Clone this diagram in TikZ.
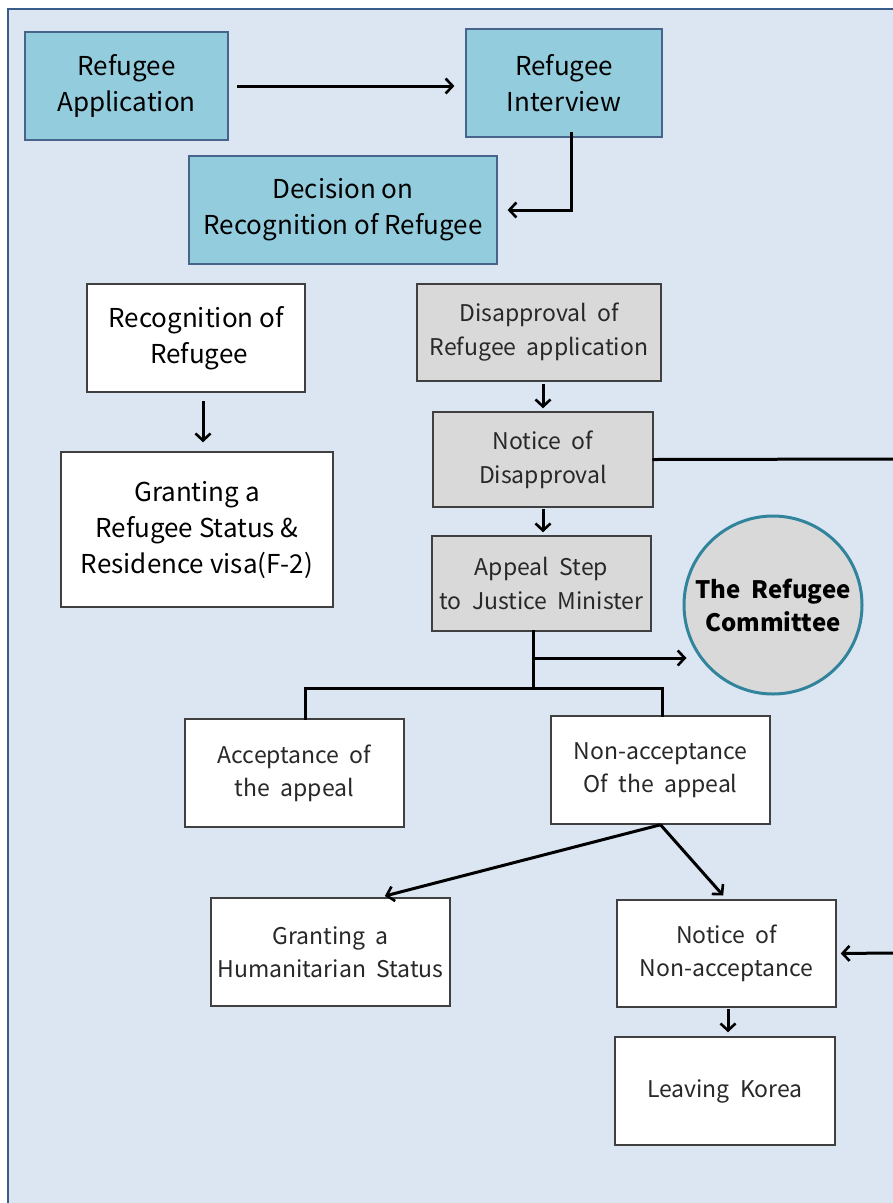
\documentclass[tikz,border=0pt]{standalone}
\usepackage{fontspec}
\setmainfont{Noto Sans CJK KR}
\usetikzlibrary{arrows.meta}
\definecolor{bgfill}{RGB}{220,230,242}
\definecolor{bgline}{RGB}{56,93,138}
\definecolor{bluefill}{RGB}{147,205,221}
\definecolor{blueline}{RGB}{70,100,140}
\definecolor{grayfill}{RGB}{217,217,217}
\definecolor{grayline}{RGB}{64,64,64}
\definecolor{circline}{RGB}{49,132,155}
\definecolor{graytext}{RGB}{40,40,40}
\newcommand\widesp{\spaceskip=0.45em plus 0.1em\relax}
\begin{document}
\begin{tikzpicture}[x=1pt,y=-1pt,
  bluebox/.style={draw=blueline,line width=1.2pt,fill=bluefill,align=center,inner sep=0pt,
    font=\fontsize{26}{36}\selectfont},
  whitebig/.style={draw=grayline,line width=1.5pt,fill=white,align=center,inner sep=0pt,
    font=\fontsize{26}{36}\selectfont},
  graybox/.style={draw=grayline,line width=1.5pt,fill=grayfill,align=center,inner sep=0pt,
    text=graytext,font=\fontsize{23}{34}\selectfont\widesp},
  whitesmall/.style={draw=grayline,line width=1.5pt,fill=white,align=center,inner sep=0pt,
    text=graytext,font=\fontsize{23}{33}\selectfont\widesp},
  conn/.style={line width=3pt,line cap=rect},
  arr/.style={conn,-{Straight Barb[length=7pt,width=15pt,line width=2.6pt]}}]
\useasboundingbox (0,0) rectangle (893,1203);
\fill[white] (0,0) rectangle (893,1203);
\draw[bgline,line width=1.2pt,fill=bgfill] (8,9) rectangle (910,1220);

\node[bluebox,minimum width=203pt,minimum height=108pt] (app) at (126.5,86) {Refugee\\Application};
\node[bluebox,minimum width=196pt,minimum height=108pt] (int) at (564,83) {Refugee\\Interview};
\node[bluebox,minimum width=308pt,minimum height=108pt] (dec) at (343,210) {Decision on\\Recognition of Refugee};

\node[whitebig,minimum width=218pt,minimum height=108pt] (rec) at (196,338) {Recognition of\\\hspace*{6pt}Refugee};
\node[whitebig,minimum width=272pt,minimum height=155pt] (grant) at (197,529.5) {Granting a\\Refugee Status \&\\Residence visa(F-2)};

\node[graybox,minimum width=244pt,minimum height=97pt] (dis) at (539,332.5) {Disapproval of\\Refugee application};
\node[graybox,minimum width=220pt,minimum height=95pt] (nd) at (543,459.5) {Notice of\\Disapproval};
\node[graybox,minimum width=219pt,minimum height=95pt] (ap) at (541.5,583.5) {Appeal Step\\to Justice Minister};

\node[circle,draw=circline,line width=3pt,fill=grayfill,minimum size=178pt,inner sep=0pt,align=center,
  font=\fontsize{24}{33}\bfseries\selectfont\widesp] (cir) at (773,605) {The Refugee\\Committee};

\node[whitesmall,minimum width=219pt,minimum height=108pt] (acc) at (294.5,773) {Acceptance of\\the appeal};
\node[whitesmall,minimum width=219pt,minimum height=108pt] (nacc) at (660.5,770) {Non-acceptance\\Of the appeal};
\node[whitesmall,minimum width=239pt,minimum height=108pt] (hum) at (330.5,952) {Granting a\\Humanitarian Status};
\node[whitesmall,minimum width=219pt,minimum height=107pt] (nna) at (726.5,953.5) {Notice of\\Non-acceptance};
\node[whitesmall,minimum width=220pt,minimum height=108pt] (leave) at (725,1091) {Leaving Korea};

% connectors
\draw[arr,shorten <=10pt,shorten >=11pt] (app.east) -- (app.east -| int.west);
\draw[arr] ([xshift=7pt,yshift=4pt]int.south) |- ([xshift=10pt]dec.east);
\draw[arr,shorten <=10pt,shorten >=9pt] ([xshift=7pt]rec.south) -- ([xshift=6pt]grant.north);
\draw[arr,shorten <=4pt,shorten >=3pt] ([xshift=4pt]dis.south) -- (nd.north);
\draw[arr,shorten <=3pt,shorten >=3pt] (nd.south) -- ([xshift=1.5pt]ap.north);
\coordinate (offA) at (893,459);
\coordinate (offB) at (893,953);
\draw[conn] (nd.east) -- (offA);
\draw[arr,shorten >=4pt] (offB) -- (nna.east);

\coordinate (j1) at (533,658);
\coordinate (j2) at (533,688);
\draw[conn] (ap.south -| j1) -- (j2);
\draw[arr,shorten >=-4pt] (j1) -- (j1 -| cir.west);
\draw[conn] ([xshift=10.5pt]acc.north) |- (j2) -| ([xshift=1.5pt]nacc.north);

\draw[arr,line cap=butt,shorten >=5pt] (nacc.south) -- ([xshift=49.5pt]hum.north);
\draw[arr,line cap=butt,shorten >=5pt] (nacc.south) -- (nna.north);
\draw[arr,shorten <=3pt,shorten >=4pt] ([xshift=1.5pt]nna.south) -- ([xshift=3pt]leave.north);
\end{tikzpicture}
\end{document}
